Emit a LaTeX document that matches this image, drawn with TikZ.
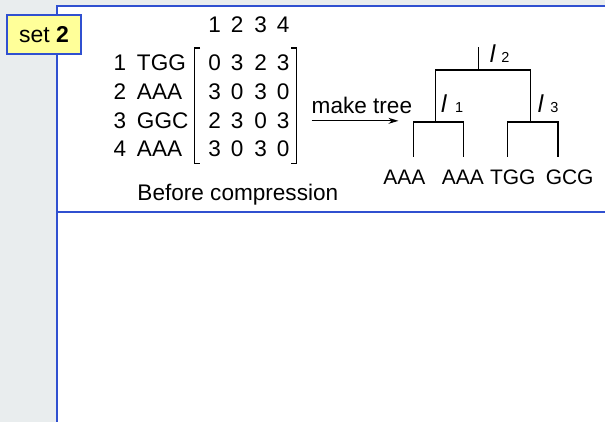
\documentclass[tikz,border=0pt]{standalone}
\usepackage{fontspec}
\setmainfont{Liberation Sans}
\usetikzlibrary{arrows.meta}
\definecolor{panelblue}{RGB}{48,80,208}
\definecolor{sidegray}{RGB}{233,237,238}
\definecolor{tagyellow}{RGB}{255,255,153}
\begin{document}
\begin{tikzpicture}[x=1pt,y=-1pt,
  txt/.style={inner sep=0pt,font=\fontsize{22.6}{25}\selectfont},
  cell/.style={txt,anchor=base},
  lbl/.style={txt,anchor=base west},
  leaf/.style={inner sep=0pt,anchor=base,font=\fontsize{21}{24}\selectfont},
  ell/.style={inner sep=0pt,anchor=base west,font=\fontsize{24.5}{27}\selectfont},
  treeline/.style={line width=1.4pt,black},
  brk/.style={line width=1.2pt,black},
  sub/.style={inner sep=0pt,anchor=base west,font=\fontsize{14.5}{16}\selectfont}]
% background and panel
\fill[sidegray] (0,0) rectangle (606,423);
\fill[white] (57,6) rectangle (606,423);
\draw[panelblue,line width=1.8pt] (606,6) -- (57,6) -- (57,423);
\draw[panelblue,line width=1.8pt] (57,212) -- (606,212);
% tag
\node[draw=panelblue,fill=tagyellow,line width=1.8pt,minimum width=74pt,minimum height=39pt,inner sep=0pt,
  font=\fontsize{23}{25}\selectfont] (tag) at (44,34.5) {set \textbf{2}};
% column header
\foreach \c/\x in {1/215,2/237.5,3/261,4/283.5}
  \node[cell] (h\c) at (\x,33) {\c};
% row labels
\foreach \r/\y/\s in {1/71/TGG,2/100/AAA,3/128.5/GGC,4/157/AAA}{
  \node[cell] (n\r) at (120,\y) {\r};
  \node[lbl] (s\r) at (137,\y) {\s};
}
% matrix entries
\foreach \r/\y/\a/\b/\cc/\d in {1/71/0/3/2/3,2/100/3/0/3/0,3/128.5/2/3/0/3,4/157/3/0/3/0}{
  \node[cell] (m\r a) at (215,\y) {\a};
  \node[cell] (m\r b) at (237.5,\y) {\b};
  \node[cell] (m\r c) at (261,\y) {\cc};
  \node[cell] (m\r d) at (283.5,\y) {\d};
}
% brackets
\draw[brk] (200.5,48) -- (195,48) -- (195,164) -- (200.5,164);
\draw[brk] (291.5,48) -- (297,48) -- (297,164) -- (291.5,164);
% caption
\node[lbl] (cap) at (137.5,201) {Before compression};
% arrow
\coordinate (arrS) at (312,121);
\coordinate (arrE) at (399,121);
\draw[line width=1.1pt,-{Stealth[length=10pt,width=6pt]}] (arrS) -- (arrE);
\node[lbl] (mk) at (312,114) {make tree};
% tree
\coordinate (a) at (414,157);
\coordinate (b) at (464,157);
\coordinate (c) at (508,157);
\coordinate (d) at (559,157);
\coordinate (i1) at (436,122);
\coordinate (i3) at (531,122);
\coordinate (r) at (479,70);
\coordinate (top) at (479,47);
\draw[treeline] (a) -- (a|-i1) -- (b|-i1) -- (b);
\draw[treeline] (c) -- (c|-i3) -- (d|-i3) -- (d);
\draw[treeline] (i1) -- (i1|-r) -- (i3|-r) -- (i3);
\draw[treeline] (r) -- (top);
% inner node labels
\node[ell] (l2) at (490.5,63) {\textit{l}};
\node[sub] (l2n) at (502,63) {2};
\node[ell] (l1) at (441.5,113) {\textit{l}};
\node[sub] (l1n) at (455.5,113) {1};
\node[ell] (l3) at (538.5,113) {\textit{l}};
\node[sub] (l3n) at (551,113) {3};
% leaves
\node[leaf] (wa) at (405,185) {AAA};
\node[leaf] (wb) at (463.5,185) {AAA};
\node[leaf] (wc) at (513.5,185) {TGG};
\node[leaf] (wd) at (570.5,185) {GCG};
\end{tikzpicture}
\end{document}
